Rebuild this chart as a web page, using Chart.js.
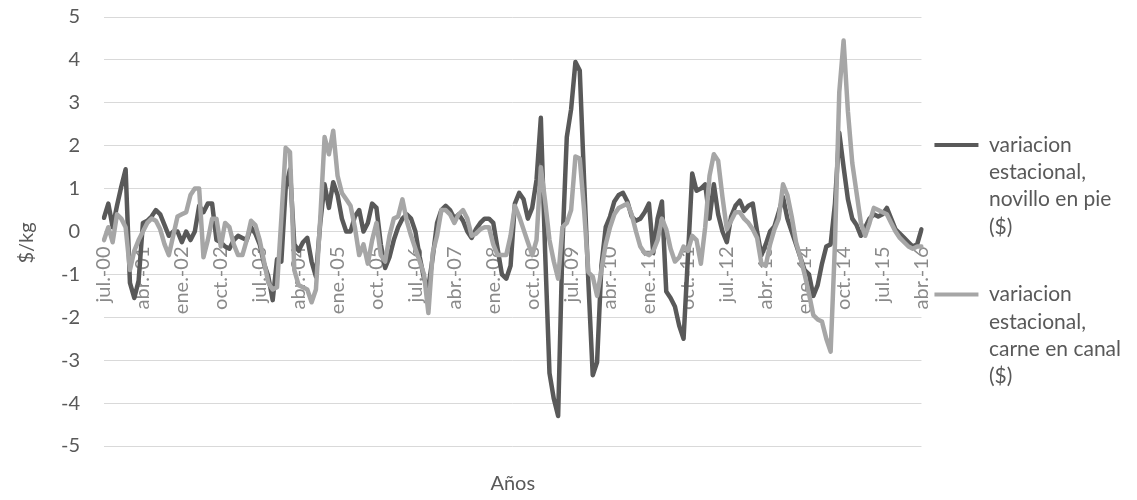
<!DOCTYPE html>
<html>
<head>
<meta charset="utf-8">
<title>Variación estacional</title>
<script src="https://cdn.jsdelivr.net/npm/chart.js@4.4.1/dist/chart.umd.min.js"></script>
<style>
  html, body { margin: 0; padding: 0; background: #ffffff; }
  #wrap { width: 1137px; height: 500px; }
</style>
</head>
<body>
<div id="wrap"><canvas id="chart" width="1137" height="500"></canvas></div>
<script>
// Meses (jul.-00 a abr.-16)
const monthNames = ['ene.', 'feb.', 'mar.', 'abr.', 'may.', 'jun.', 'jul.', 'ago.', 'sep.', 'oct.', 'nov.', 'dic.'];
const startYear = 2000;
const startMonth = 6; // julio
const monthCount = 190;

// Variacion estacional, novillo en pie ($/kg)
const novilloEnPie = [
  0.32, 0.65, 0.1, 0.6, 1.05, 1.45, -1.2, -1.55, -1.15, 0.2,
  0.25, 0.35, 0.5, 0.4, 0.15, -0.1, 0.0, 0.0, -0.25, 0.0,
  -0.2, 0.0, 0.6, 0.45, 0.65, 0.65, -0.2, -0.25, -0.35, -0.4,
  -0.2, -0.1, -0.15, -0.2, 0.1, -0.05, -0.3, -0.75, -1.05, -1.6,
  -0.65, -0.7, 1.0, 1.45, -0.3, -0.45, -0.25, -0.15, -0.7, -1.05,
  0.2, 1.1, 0.55, 1.15, 0.85, 0.3, 0.0, 0.0, 0.35, 0.5,
  0.0, 0.2, 0.65, 0.55, -0.3, -0.85, -0.6, -0.2, 0.1, 0.3,
  0.4, 0.3, 0.0, -0.6, -1.1, -1.3, -0.6, 0.2, 0.5, 0.6,
  0.5, 0.3, 0.4, 0.25, 0.0, -0.15, 0.05, 0.2, 0.3, 0.3,
  0.2, -0.4, -1.0, -1.1, -0.8, 0.65, 0.9, 0.75, 0.3, 0.55,
  1.2, 2.65, -0.5, -3.3, -3.9, -4.3, -0.3, 2.2, 2.85, 3.95,
  3.75, 1.2, -1.2, -3.35, -3.05, -0.8, 0.1, 0.35, 0.7, 0.85,
  0.9, 0.7, 0.35, 0.25, 0.3, 0.45, 0.65, -0.5, 0.3, 0.7,
  -1.4, -1.55, -1.75, -2.2, -2.5, -0.6, 1.35, 0.95, 1.0, 1.1,
  0.3, 1.1, 0.4, 0.0, -0.25, 0.35, 0.6, 0.72, 0.48, 0.6,
  0.65, 0.0, -0.55, -0.3, 0.0, 0.12, 0.45, 0.8, 0.3, 0.0,
  -0.3, -0.6, -0.9, -1.0, -1.5, -1.25, -0.75, -0.35, -0.3, 0.65,
  2.3, 1.5, 0.75, 0.3, 0.15, -0.1, 0.1, 0.3, 0.4, 0.35,
  0.4, 0.55, 0.3, 0.05, -0.05, -0.15, -0.25, -0.35, -0.3, 0.05
];

// Variacion estacional, carne en canal ($/kg)
const carneEnCanal = [
  -0.2, 0.1, -0.25, 0.4, 0.3, 0.1, -0.9, -0.45, -0.2, 0.0,
  0.2, 0.3, 0.25, 0.05, -0.3, -0.55, -0.1, 0.35, 0.4, 0.45,
  0.85, 1.0, 1.0, -0.6, -0.2, 0.3, 0.3, -0.35, 0.2, 0.1,
  -0.3, -0.55, -0.55, -0.2, 0.25, 0.15, -0.2, -0.7, -1.2, -1.35,
  -1.3, 0.3, 1.95, 1.85, -0.9, -1.25, -1.3, -1.35, -1.65, -1.35,
  0.3, 2.2, 1.8, 2.35, 1.3, 0.9, 0.75, 0.6, 0.1, -0.55,
  -0.3, -0.75, -0.2, 0.2, -0.55, -0.7, -0.1, 0.3, 0.35, 0.75,
  0.25, -0.1, -0.4, -0.7, -1.0, -1.9, -0.5, -0.1, 0.5, 0.5,
  0.4, 0.2, 0.4, 0.5, 0.3, -0.1, -0.05, 0.05, 0.1, 0.1,
  -0.3, -0.55, -0.55, -0.55, -0.1, 0.6, 0.35, 0.05, -0.25, -0.55,
  -0.2, 1.5, 0.7, -0.2, -0.7, -1.1, 0.1, 0.2, 0.5, 1.75,
  1.7, 0.5, -0.95, -1.05, -1.5, -0.9, -0.3, 0.1, 0.4, 0.55,
  0.6, 0.65, 0.4, 0.0, -0.35, -0.5, -0.55, -0.45, -0.2, 0.3,
  0.05, -0.4, -0.7, -0.6, -0.35, -0.45, -0.1, -0.2, -0.75, 0.1,
  1.3, 1.8, 1.65, 0.8, 0.05, 0.25, 0.45, 0.45, 0.3, 0.2,
  0.05, -0.15, -0.75, -0.8, -0.3, 0.05, 0.3, 1.1, 0.85, 0.35,
  -0.25, -0.6, -1.0, -1.45, -1.95, -2.05, -2.1, -2.5, -2.8, -0.3,
  3.25, 4.45, 2.8, 1.6, 0.9, 0.2, -0.1, 0.2, 0.55, 0.5,
  0.45, 0.4, 0.2, 0.0, -0.15, -0.25, -0.35, -0.4, -0.35, -0.35
];

// Eje Y
const yMin = -5;
const yMax = 5;
const yStep = 1;
const labelEvery = 9; // una etiqueta cada 9 meses

// Etiquetas de categoria: "jul.-00", "ago.-00", ...
const labels = [];
for (let i = 0; i < monthCount; i++) {
    const m = (startMonth + i) % 12;
    const y = startYear + Math.floor((startMonth + i) / 12);
    labels.push(monthNames[m] + '-' + String(y % 100).padStart(2, '0'));
}

const legendLines = [
    ['variacion', 'estacional,', 'novillo en pie', '($)', ''],
    ['variacion', 'estacional,', 'carne en canal', '($)', '']
];

const darkGray = '#595959';
const lightGray = '#a6a6a6';
const gridGray = '#d9d9d9';
const textGray = '#595959';
const fontFamily = 'Lato, "Open Sans", sans-serif';

// Titulo del eje Y, dibujado a mano para centrarlo como en Excel
const yAxisTitle = {
    id: 'yAxisTitle',
    afterDraw(chart) {
        const c = chart.ctx;
        c.save();
        c.translate(27, 243);
        c.rotate(-Math.PI / 2);
        c.fillStyle = textGray;
        c.font = '20px ' + fontFamily;
        c.textAlign = 'center';
        c.textBaseline = 'middle';
        c.fillText('$/kg', 0, 0);
        c.restore();
    }
};

const ctx = document.getElementById('chart').getContext('2d');

new Chart(ctx, {
    type: 'line',
    data: {
        labels: labels,
        datasets: [{
            label: 'variacion estacional, novillo en pie ($)',
            data: novilloEnPie,
            borderColor: darkGray,
            backgroundColor: darkGray,
            borderWidth: 4.5,
            pointRadius: 0,
            tension: 0,
            borderJoinStyle: 'round',
            borderCapStyle: 'round',
            order: 1
        }, {
            label: 'variacion estacional, carne en canal ($)',
            data: carneEnCanal,
            borderColor: lightGray,
            backgroundColor: lightGray,
            borderWidth: 4.5,
            pointRadius: 0,
            tension: 0,
            borderJoinStyle: 'round',
            borderCapStyle: 'round',
            order: 0
        }]
    },
    options: {
        responsive: false,
        animation: false,
        layout: {
            padding: { top: 17, right: 6, bottom: 0, left: 0 }
        },
        scales: {
            x: {
                type: 'category',
                position: { y: 0 },
                offset: false,
                grid: { display: false, drawTicks: false },
                border: { display: true, color: gridGray, width: 1 },
                ticks: {
                    autoSkip: false,
                    minRotation: 90,
                    maxRotation: 90,
                    padding: 15,
                    color: '#8a8a8a',
                    font: { family: fontFamily, size: 20 },
                    callback: function (value, index) {
                        return index % labelEvery === 0 ? labels[index] : '';
                    }
                }
            },
            y: {
                min: yMin,
                max: yMax,
                grid: {
                    color: gridGray,
                    lineWidth: 1,
                    drawTicks: true,
                    tickLength: 24,
                    tickColor: 'rgba(0,0,0,0)'
                },
                border: { display: false },
                ticks: {
                    stepSize: yStep,
                    padding: 0,
                    color: textGray,
                    font: { family: fontFamily, size: 20 }
                },
                afterFit: function (scale) {
                    scale.width = 104;
                }
            }
        },
        plugins: {
            legend: {
                display: true,
                position: 'right',
                align: 'center',
                title: {
                    display: true,
                    text: ' ',
                    padding: 0,
                    font: { family: fontFamily, size: 38, lineHeight: 1 }
                },
                labels: {
                    boxWidth: 44,
                    boxHeight: 4,
                    padding: 13,
                    color: textGray,
                    font: { family: fontFamily, size: 21, lineHeight: 1.3 },
                    generateLabels: function (chart) {
                        return chart.data.datasets.map(function (ds, i) {
                            return {
                                text: legendLines[i],
                                fillStyle: ds.borderColor,
                                strokeStyle: ds.borderColor,
                                lineWidth: 0,
                                hidden: false,
                                datasetIndex: i,
                                fontColor: textGray
                            };
                        });
                    }
                }
            },
            title: {
                display: true,
                text: 'Años',
                position: 'bottom',
                fullSize: false,
                color: textGray,
                padding: { top: 26, bottom: 4 },
                font: { family: fontFamily, size: 20, weight: 'normal', lineHeight: 1.2 }
            },
            tooltip: { enabled: false }
        }
    },
    plugins: [yAxisTitle]
});
</script>
</body>
</html>
